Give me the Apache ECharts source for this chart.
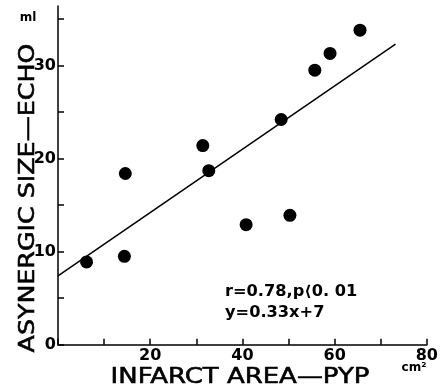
<!DOCTYPE html>
<html><head><meta charset="utf-8">
<script src="https://cdn.jsdelivr.net/npm/echarts@6/dist/echarts.min.js"></script>
<style>html,body{margin:0;padding:0;background:#fff}#c{width:441px;height:389px}</style>
</head><body><div id="c"></div>
<script>
const infarctArea = [6.2, 14.4, 14.6, 31.4, 32.7, 40.8, 50.3, 48.4, 55.7, 59.0, 65.5];
const asynergicSize = [8.9, 9.5, 18.4, 21.4, 18.7, 12.9, 13.9, 24.2, 29.5, 31.3, 33.8];
const fitX = [0, 73.2];
const fitY = [7.4, 32.3];
const xTickLabels = [20, 40, 60, 80];
const yTickLabels = [0, 10, 20, 30];
const xTitle = 'INFARCT AREA—PYP';
const yTitle = 'ASYNERGIC SIZE—ECHO';
const annot1 = 'r=0.78,p\u27E80. 01';
const annot2 = 'y=0.33x+7';

const FONT = 'DejaVu Sans';
const chart = echarts.init(document.getElementById('c'));
chart.setOption({
  animation: false,
  backgroundColor: '#fff',
  grid: {left: 58, right: 12.7, top: 6, bottom: 44.3, containLabel: false},
  xAxis: {
    type: 'value', min: 0, max: 80, interval: 10,
    axisLine: {lineStyle: {color: '#000', width: 1.5}},
    axisTick: {inside: true, length: 6, lineStyle: {color: '#000', width: 1.5}},
    splitLine: {show: false},
    axisLabel: {margin: 3, color: '#000', fontFamily: FONT, fontWeight: 'bold', fontSize: 16,
      formatter: v => xTickLabels.includes(v) ? String(v) : ''}
  },
  yAxis: {
    type: 'value', min: 0, max: 36.4, interval: 5,
    axisLine: {show: true, lineStyle: {color: '#000', width: 1.5}},
    axisTick: {show: true, inside: true, length: 6, lineStyle: {color: '#000', width: 1.5}},
    splitLine: {show: false},
    axisLabel: {margin: 2, color: '#000', fontFamily: FONT, fontWeight: 'bold', fontSize: 16,
      showMaxLabel: false,
      formatter: v => yTickLabels.includes(v) ? String(v) : ''}
  },
  series: [
    {type: 'line', data: fitX.map((x, i) => [x, fitY[i]]), showSymbol: false,
     lineStyle: {color: '#000', width: 1.5}},
    {type: 'scatter', data: infarctArea.map((x, i) => [x, asynergicSize[i]]),
     symbolSize: 13, itemStyle: {color: '#000', opacity: 1}}
  ],
  graphic: [
    {type: 'text', x: 28, y: 198, rotation: Math.PI / 2, scaleX: 1.15,
     style: {text: yTitle, font: `22px "${FONT}"`, fill: '#000', stroke: '#000', lineWidth: 0.6, align: 'center', verticalAlign: 'middle'}},
    {type: 'text', x: 240, y: 377, scaleX: 1.18,
     style: {text: xTitle, font: `22px "${FONT}"`, fill: '#000', stroke: '#000', lineWidth: 0.6, align: 'center', verticalAlign: 'middle'}},
    {type: 'text', x: 28, y: 18,
     style: {text: 'ml', font: `bold 12px "${FONT}"`, fill: '#000', align: 'center', verticalAlign: 'middle'}},
    {type: 'text', x: 414, y: 368,
     style: {text: 'cm²', font: `bold 12px "${FONT}"`, fill: '#000', align: 'center', verticalAlign: 'middle'}},
    {type: 'text', x: 225, y: 292, scaleX: 1.08,
     style: {text: annot1, font: `bold 15px "${FONT}"`, fill: '#000', align: 'left', verticalAlign: 'middle'}},
    {type: 'text', x: 225, y: 313, scaleX: 1.08,
     style: {text: annot2, font: `bold 15px "${FONT}"`, fill: '#000', align: 'left', verticalAlign: 'middle'}}
  ]
});
</script></body></html>
